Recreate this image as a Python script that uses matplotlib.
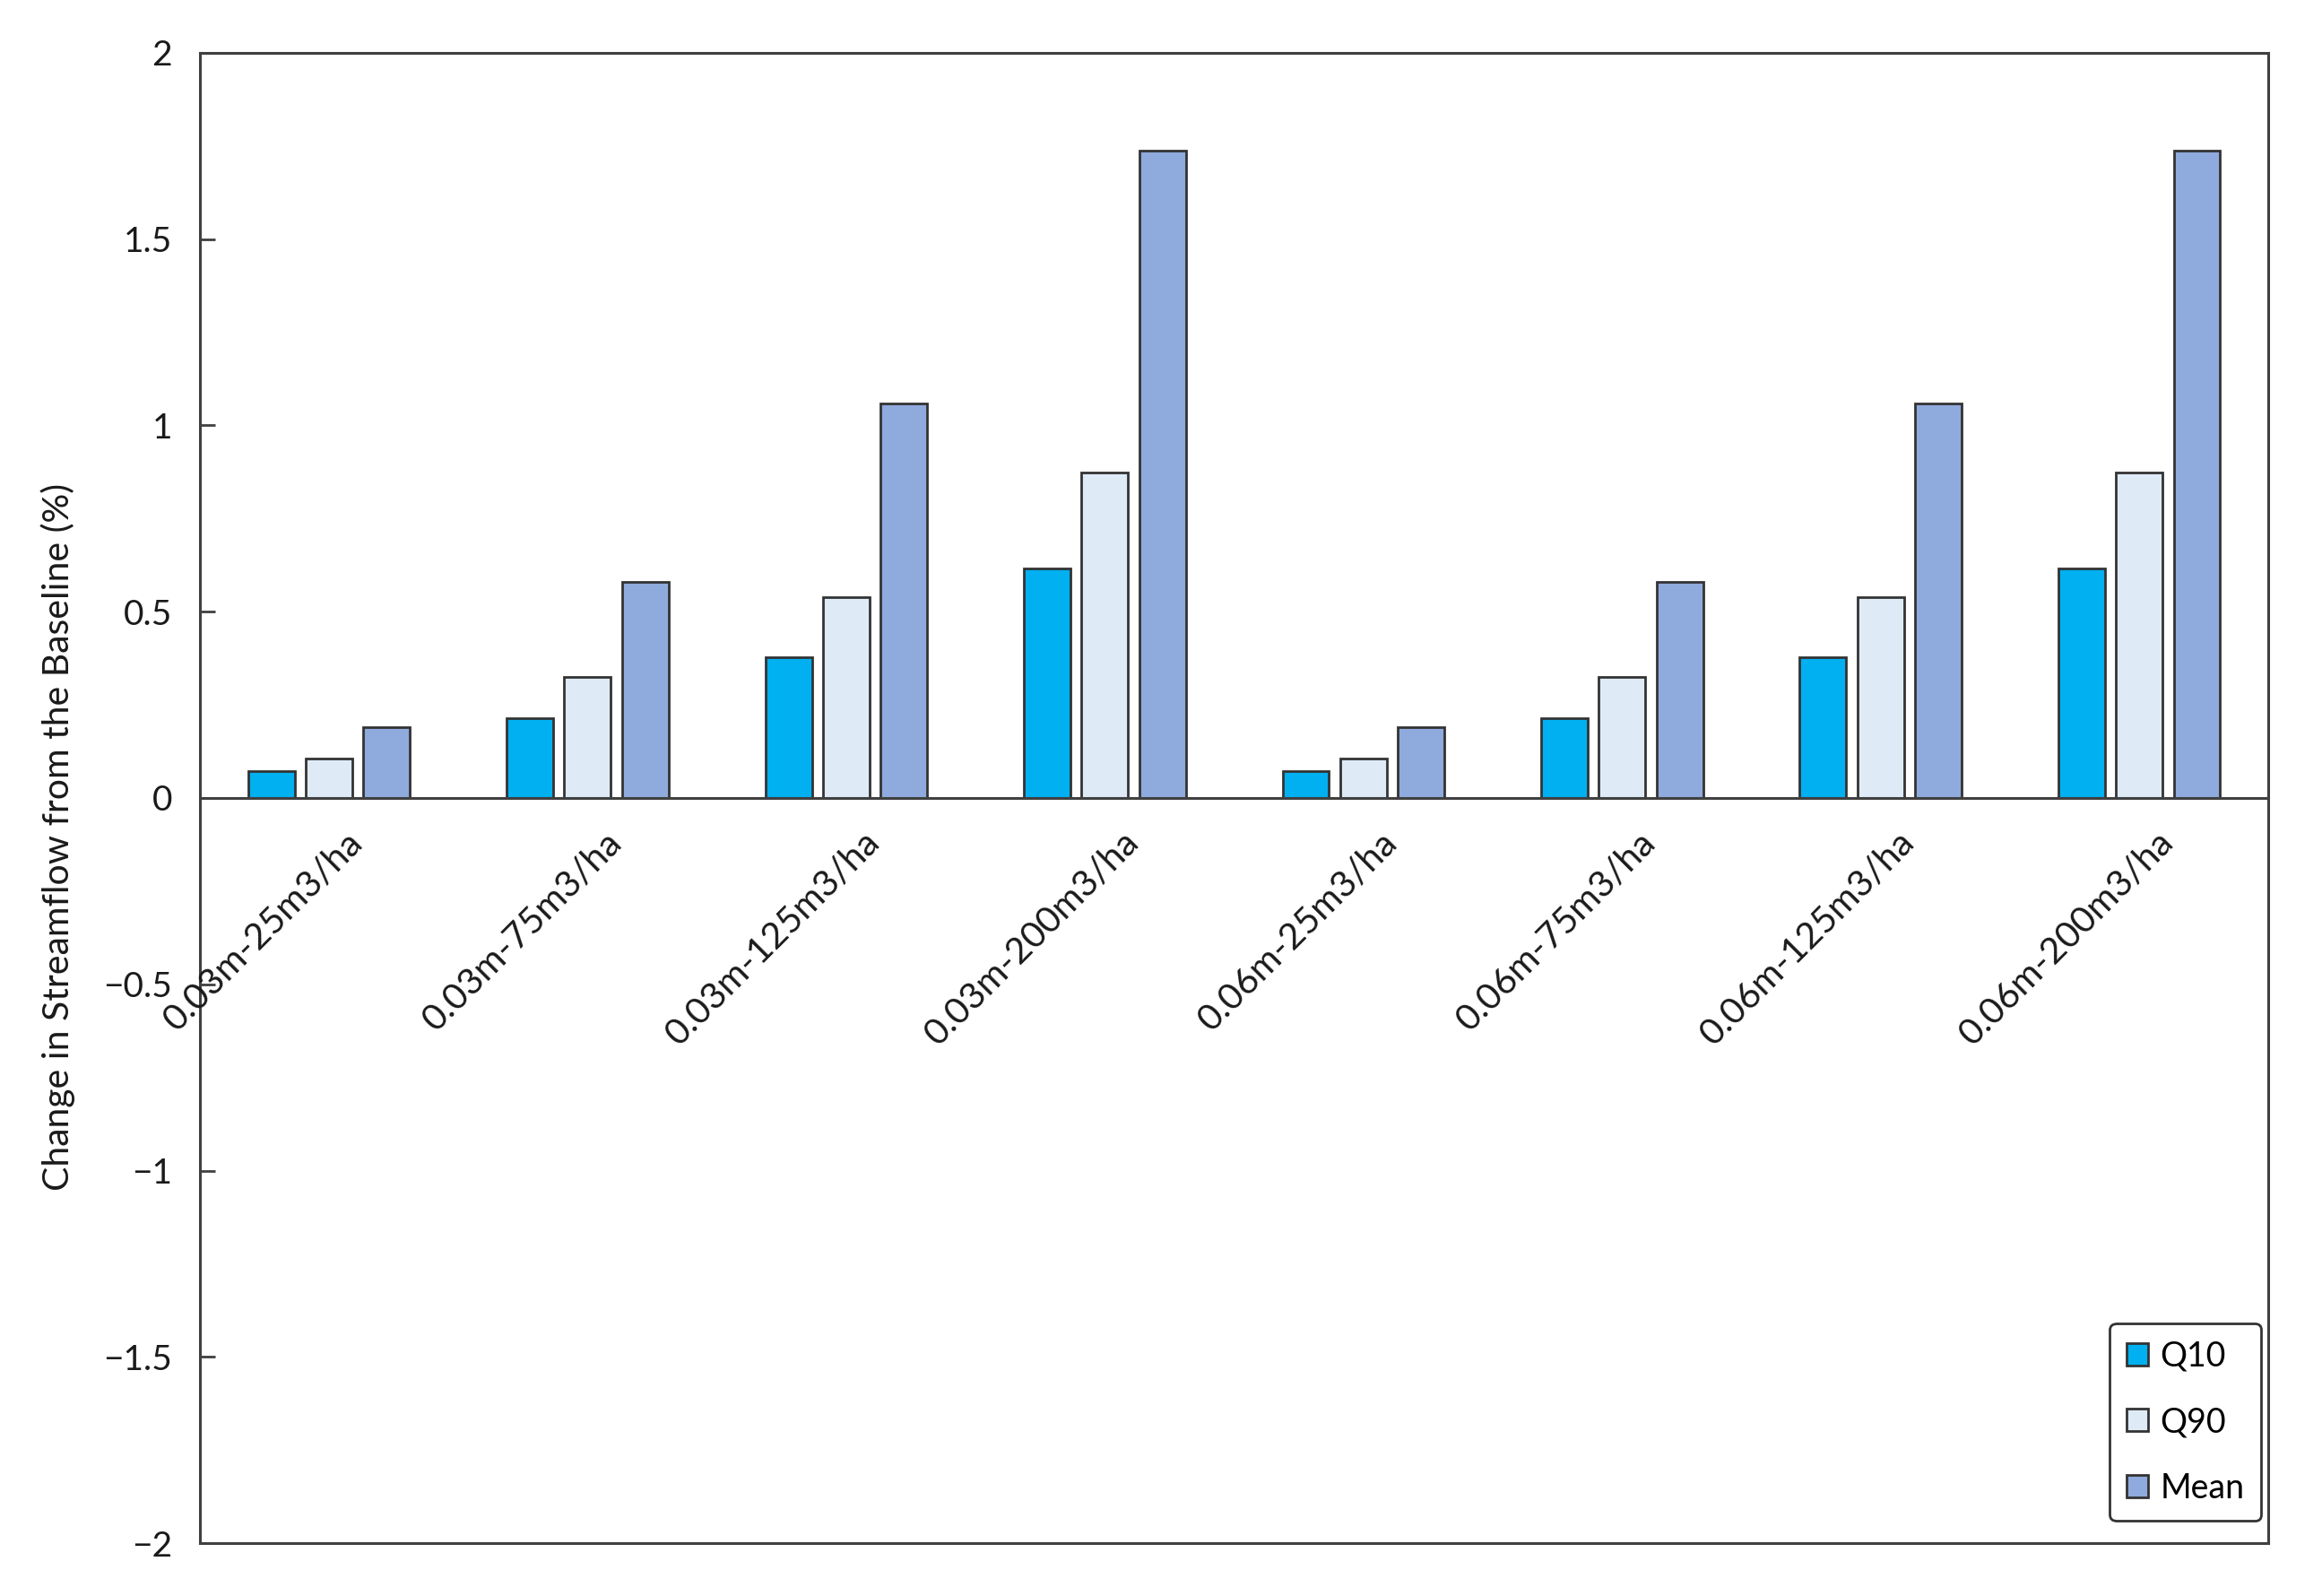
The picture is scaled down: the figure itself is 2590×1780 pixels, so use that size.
import matplotlib
matplotlib.use("Agg")
import matplotlib.pyplot as plt
import numpy as np

categories = ["0.03m-25m3/ha", "0.03m-75m3/ha", "0.03m-125m3/ha", "0.03m-200m3/ha",
              "0.06m-25m3/ha", "0.06m-75m3/ha", "0.06m-125m3/ha", "0.06m-200m3/ha"]
q10 = [0.071, 0.214, 0.377, 0.615, 0.071, 0.214, 0.377, 0.615]
q90 = [0.107, 0.325, 0.540, 0.873, 0.107, 0.325, 0.540, 0.873]
mean = [0.190, 0.580, 1.058, 1.738, 0.190, 0.580, 1.058, 1.738]
series_names = ["Q10", "Q90", "Mean"]
colors = ["#00B0F0", "#DEEBF7", "#8FAADC"]
yticks = [-2, -1.5, -1, -0.5, 0, 0.5, 1, 1.5, 2]
ytick_labels = ["\u22122", "\u22121.5", "\u22121", "\u22120.5", "0", "0.5", "1", "1.5", "2"]

plt.rcParams['font.family'] = ['Lato', 'DejaVu Sans']
edge = "#333333"

fig = plt.figure(figsize=(25.9, 17.8), dpi=100)
ax = fig.add_axes([0.086, 0.033, 0.891, 0.934])

x = np.arange(len(categories))
w = 0.18
step = 0.223
for i, (vals, name, c) in enumerate(zip([q10, q90, mean], series_names, colors)):
    ax.bar(x + (i - 1) * step, vals, width=w, color=c, edgecolor=edge,
           linewidth=2.0, label=name, zorder=3)

ax.axhline(0, color="#404040", linewidth=2.2, zorder=4)
ax.set_xlim(-0.5, len(categories) - 0.5)
ax.set_ylim(-2, 2)
ax.set_yticks(yticks)
ax.set_yticklabels(ytick_labels, fontsize=28, color="#1a1a1a")
ax.tick_params(axis='y', direction='in', length=12, width=2, color="#404040", pad=22)
ax.set_xticks([])
for s in ax.spines.values():
    s.set_color("#404040")
    s.set_linewidth(2.2)

for xi, lab in zip(x, categories):
    ax.annotate(lab, xy=(xi + 0.065, 0), xytext=(0, -22), textcoords='offset points',
                rotation=45, ha='right', va='top', rotation_mode='anchor',
                fontsize=29.5, color="#1a1a1a")

ax.set_ylabel("Change in Streamflow from the Baseline (%)", fontsize=29.5,
              color="#1a1a1a")
ax.yaxis.set_label_coords(-0.060, 0.474)

leg = ax.legend(loc='lower right', fontsize=27, frameon=True, fancybox=True,
                edgecolor="#333333", borderpad=0.5, labelspacing=1.0,
                handlelength=0.65, handleheight=0.65, handletextpad=0.35,
                borderaxespad=0, bbox_to_anchor=(0.9965, 0.015))
leg.get_frame().set_linewidth(2.0)
leg.get_frame().set_alpha(1)

fig.savefig("out.png", dpi=100)
